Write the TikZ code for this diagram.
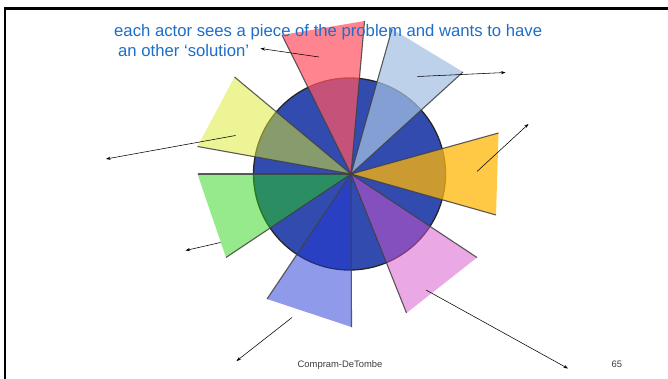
\documentclass[tikz,border=0pt]{standalone}
\usepackage{fontspec}
\setmainfont{Liberation Sans}
\usetikzlibrary{arrows.meta}

% wedge palette
\definecolor{discblue}{RGB}{50,75,175}
\definecolor{wpink}{RGB}{255,85,100}
\definecolor{wsky}{RGB}{165,192,227}
\definecolor{wlemon}{RGB}{221,235,45}
\definecolor{wgreen}{RGB}{36,213,15}
\definecolor{worange}{RGB}{255,182,8}
\definecolor{wmagenta}{RGB}{215,85,205}
\definecolor{wperi}{RGB}{35,55,215}
\definecolor{titleblue}{RGB}{30,110,200}
\definecolor{footgray}{RGB}{60,60,60}

\tikzset{
  wedge/.style={draw=none, fill=#1},
  rim/.style={draw=black!75, line width=1.1pt, draw opacity=0.85},
  pointer/.style={draw=black, line width=0.55pt, -{Stealth[length=4.5pt,width=3.2pt]}},
  titletext/.style={anchor=base west, inner sep=0pt, text=titleblue, font=\fontsize{16.7}{20}\selectfont},
  foottext/.style={anchor=base west, inner sep=0pt, text=footgray, font=\fontsize{9.4}{11}\selectfont},
}

\begin{document}
\begin{tikzpicture}[x=1pt, y=-1pt]
  \useasboundingbox (0,0) rectangle (668,379);
  \fill[white] (0,0) rectangle (668,379);

  % slide frame
  \draw[black, line width=2.4pt] (5,379) -- (5,8.5) -- (668,8.5);

  % apex of all wedges
  \coordinate (o) at (351,174);

  % the dark disc
  \filldraw[fill=discblue, draw=black!85, line width=1.3pt] (349.5,174) circle (96);

  % wedges: apex plus two outer corners
  \coordinate (pk1) at (282,35);   \coordinate (pk2) at (364.5,21);
  \coordinate (sk1) at (392,29);   \coordinate (sk2) at (463,72);
  \coordinate (or1) at (498.5,133);\coordinate (or2) at (496,215);
  \coordinate (mg1) at (477,257.5);\coordinate (mg2) at (406.5,313);
  \coordinate (pe1) at (351.5,327);\coordinate (pe2) at (267,299);
  \coordinate (gr1) at (226,257.5);\coordinate (gr2) at (197.5,174);
  \coordinate (ye1) at (197.5,146.5);\coordinate (ye2) at (234.5,77);

  \fill[wedge=wpink, fill opacity=0.72] (o) -- (pk1) -- (pk2) -- cycle;
  \fill[wedge=wsky, fill opacity=0.72] (o) -- (sk1) -- (sk2) -- cycle;
  \fill[wedge=worange, fill opacity=0.75] (o) -- (or1) -- (or2) -- cycle;
  \fill[wedge=wmagenta, fill opacity=0.5] (o) -- (mg1) -- (mg2) -- cycle;
  \fill[wedge=wperi, fill opacity=0.5] (o) -- (pe1) -- (pe2) -- cycle;
  \fill[wedge=wgreen, fill opacity=0.48] (o) -- (gr1) -- (gr2) -- cycle;
  \fill[wedge=wlemon, fill opacity=0.5] (o) -- (ye1) -- (ye2) -- cycle;

  % radial edges of the wedges
  \foreach \p in {pk1,pk2,sk1,sk2,or1,or2,mg1,mg2,pe1,pe2,gr1,gr2,ye1,ye2}
    \draw[rim] (o) -- (\p);

  % pointers leaving each wedge
  \coordinate (a1s) at (319,57);    \coordinate (a1e) at (260.5,48.5);
  \coordinate (a2s) at (417.5,76.5);\coordinate (a2e) at (505.5,72.5);
  \coordinate (a3s) at (477,171.5); \coordinate (a3e) at (528.5,124);
  \coordinate (a4s) at (426,290);   \coordinate (a4e) at (568,368.5);
  \coordinate (a5s) at (292,317.5); \coordinate (a5e) at (236.5,361);
  \coordinate (a6s) at (220.5,242.5);\coordinate (a6e) at (185.5,250.5);
  \coordinate (a7s) at (235.5,135.5);\coordinate (a7e) at (106,159);
  \foreach \i in {1,...,7}
    \draw[pointer] (a\i s) -- (a\i e);

  % caption
  \node[titletext] (cap1) at (114,37) {each actor sees a piece of the problem and wants to have};
  \node[titletext] (cap2) at (118,57) {an other ‘solution’};

  % footer
  \node[foottext] (foot) at (297.5,367.5) {Compram-DeTombe};
  \node[foottext] (page) at (611.5,367.5) {65};
\end{tikzpicture}
\end{document}
